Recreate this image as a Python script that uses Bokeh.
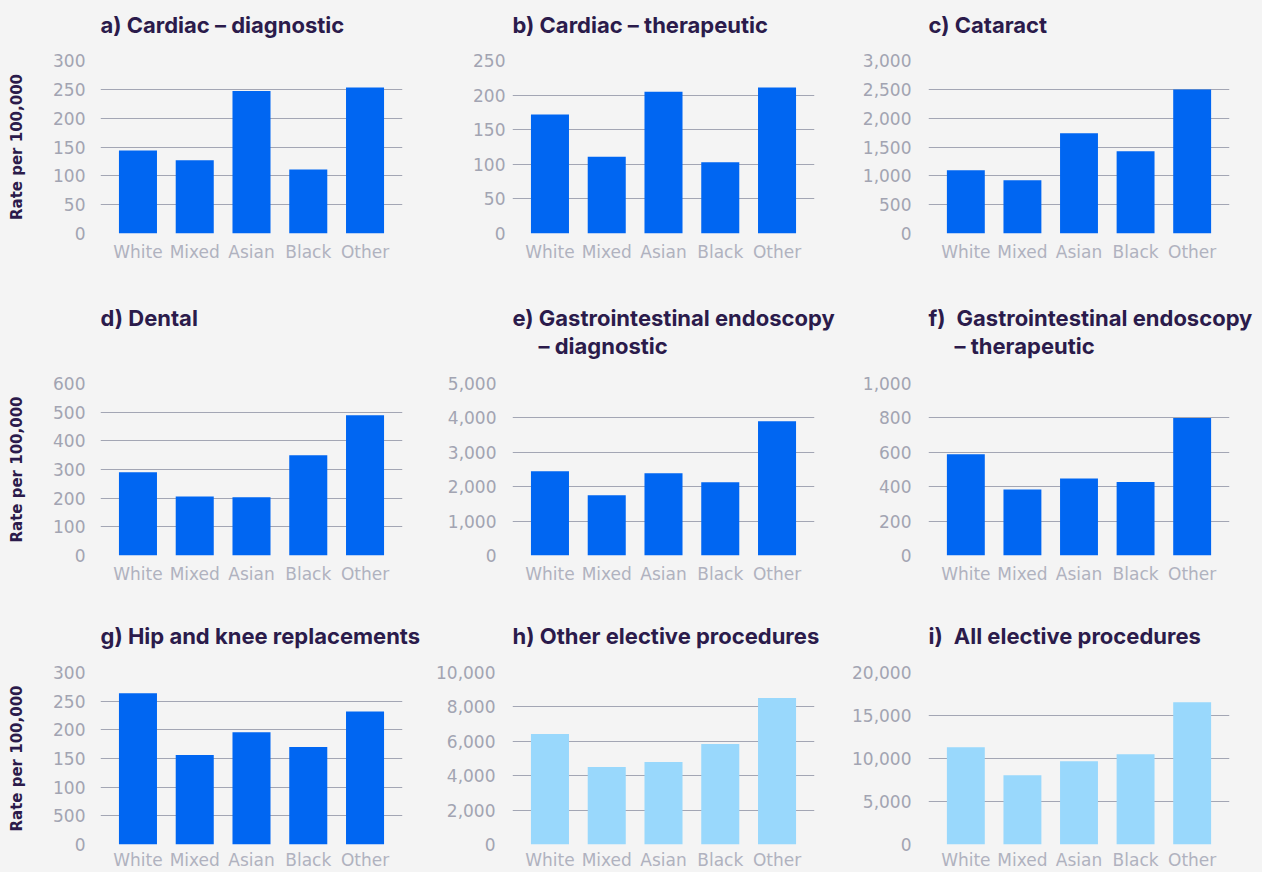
from bokeh.plotting import figure
from bokeh.layouts import column, row
from bokeh.models import Title, FactorRange, Range1d, NumeralTickFormatter, FixedTicker
from bokeh.embed import file_html
from bokeh.resources import INLINE

# ---------------- data ----------------
categories = ["White", "Mixed", "Asian", "Black", "Other"]

cardiac_diagnostic = [144, 127, 247, 111, 253]
cardiac_therapeutic = [172, 111, 205, 103, 211]
cataract = [1096, 923, 1737, 1425, 2498]
dental = [290, 206, 203, 350, 489]
gi_diagnostic = [2447, 1748, 2388, 2126, 3903]
gi_therapeutic = [588, 384, 448, 427, 800]
hip_knee = [264, 156, 196, 170, 232]
other_elective = [6427, 4505, 4796, 5845, 8524]
all_elective = [11301, 8039, 9670, 10485, 16544]

ticks_a = [0, 50, 100, 150, 200, 250, 300]
ticks_b = [0, 50, 100, 150, 200, 250]
ticks_c = [0, 500, 1000, 1500, 2000, 2500, 3000]
ticks_d = [0, 100, 200, 300, 400, 500, 600]
ticks_e = [0, 1000, 2000, 3000, 4000, 5000]
ticks_f = [0, 200, 400, 600, 800, 1000]
ticks_g = [0, 50, 100, 150, 200, 250, 300]
ticks_h = [0, 2000, 4000, 6000, 8000, 10000]
ticks_i = [0, 5000, 10000, 15000, 20000]
tick_label_overrides_g = {50: "500"}

titles = {
    "a": ["a) Cardiac \u2013 diagnostic"],
    "b": ["b) Cardiac \u2013 therapeutic"],
    "c": ["c) Cataract"],
    "d": ["d) Dental"],
    "e": ["e) Gastrointestinal endoscopy", "\u2013 diagnostic"],
    "f": ["f)\u2002Gastrointestinal endoscopy", "\u2013 therapeutic"],
    "g": ["g) Hip and knee replacements"],
    "h": ["h) Other elective procedures"],
    "i": ["i)\u2002All elective procedures"],
}
y_label = "Rate per 100,000"

# ---------------- style ----------------
BG = "#f4f4f4"
BLUE = "#0066f2"
LIGHT_BLUE = "#99d8fc"
TITLE_COLOR = "#2b1b4b"
TICK_COLOR = "#a2a4b2"
CAT_COLOR = "#b0b2bf"
GRID_COLOR = "#a3a6b4"
TICK_FONT = "DejaVu Sans"
TITLE_FONT = "Inter"

cols = [dict(W=430, L=100, R=28), dict(W=418, L=82, R=34), dict(W=414, L=80, R=33)]
rows = [dict(H=290, F=60, FH=173, XS=8),
        dict(H=320, F=93, FH=172, XS=8),
        dict(H=262, F=62, FH=172, XS=5)]


def make_panel(key, values, ticks, color, ci, ri, gap, tick_standoff=15,
               with_ylabel=False, overrides=None, line2_offset=26):
    c = cols[ci]
    r = rows[ri]
    p = figure(
        width=c["W"], height=r["H"], title=None,
        x_range=FactorRange(factors=categories, range_padding=0.16,
                            range_padding_units="absolute"),
        y_range=Range1d(0, ticks[-1]),
        output_backend="svg", toolbar_location=None,
        min_border_left=c["L"], min_border_right=c["R"],
        min_border_top=r["F"], min_border_bottom=r["H"] - r["F"] - r["FH"],
    )
    p.background_fill_color = BG
    p.border_fill_color = BG
    p.outline_line_color = None

    p.vbar(x=categories, top=values, width=0.67, fill_color=color, line_color=None)

    # grid
    p.xgrid.grid_line_color = None
    p.ygrid.grid_line_color = GRID_COLOR
    p.ygrid.grid_line_width = 1

    # y axis
    p.yaxis.ticker = FixedTicker(ticks=ticks)
    p.yaxis.formatter = NumeralTickFormatter(format="0,0")
    if overrides:
        p.yaxis.major_label_overrides = overrides
    p.yaxis.axis_line_color = None
    p.yaxis.major_tick_line_color = None
    p.yaxis.minor_tick_line_color = None
    p.yaxis.major_tick_out = 0
    p.yaxis.major_tick_in = 0
    p.yaxis.minor_tick_out = 0
    p.yaxis.major_label_standoff = tick_standoff
    p.yaxis.major_label_text_font = TICK_FONT
    p.yaxis.major_label_text_font_size = "17px"
    p.yaxis.major_label_text_color = TICK_COLOR
    if with_ylabel:
        p.yaxis.axis_label = y_label
        p.yaxis.axis_label_text_font = TICK_FONT
        p.yaxis.axis_label_text_font_size = "15px"
        p.yaxis.axis_label_text_font_style = "bold"
        p.yaxis.axis_label_text_color = TITLE_COLOR
        p.yaxis.axis_label_standoff = 24

    # x axis
    p.xaxis.axis_line_color = None
    p.xaxis.major_tick_line_color = None
    p.xaxis.major_tick_out = 0
    p.xaxis.major_tick_in = 0
    p.xaxis.major_label_standoff = r["XS"]
    p.xaxis.major_label_text_font = TICK_FONT
    p.xaxis.major_label_text_font_size = "17px"
    p.xaxis.major_label_text_color = CAT_COLOR

    # titles (spacer first -> nearest the frame)
    p.add_layout(Title(text=" ", text_font_size="1px", standoff=max(gap - 3, 0),
                       background_fill_color=None), "above")
    lines = titles[key]
    for k, line in enumerate(reversed(lines)):
        is_second = (len(lines) == 2 and k == 0)
        p.add_layout(Title(text=line, text_font=TITLE_FONT, text_font_size="22px",
                           text_font_style="bold", text_color=TITLE_COLOR,
                           align="left", standoff=0,
                           offset=line2_offset if is_second else 0), "above")
    return p


pa = make_panel("a", cardiac_diagnostic, ticks_a, BLUE, 0, 0, 22.5, with_ylabel=True)
pb = make_panel("b", cardiac_therapeutic, ticks_b, BLUE, 1, 0, 22.5, tick_standoff=7)
pc = make_panel("c", cataract, ticks_c, BLUE, 2, 0, 22.5, tick_standoff=17)

pd_ = make_panel("d", dental, ticks_d, BLUE, 0, 1, 52.5, with_ylabel=True)
pe = make_panel("e", gi_diagnostic, ticks_e, BLUE, 1, 1, 24.5, tick_standoff=16, line2_offset=26)
pf = make_panel("f", gi_therapeutic, ticks_f, BLUE, 2, 1, 24.5, tick_standoff=17, line2_offset=26)

pg = make_panel("g", hip_knee, ticks_g, BLUE, 0, 2, 23.5, with_ylabel=True,
                overrides=tick_label_overrides_g)
ph = make_panel("h", other_elective, ticks_h, LIGHT_BLUE, 1, 2, 23.5, tick_standoff=17)
pi = make_panel("i", all_elective, ticks_i, LIGHT_BLUE, 2, 2, 23.5, tick_standoff=17)

bg_style = {"background-color": BG}
layout = column(
    row(pa, pb, pc, styles=bg_style),
    row(pd_, pe, pf, styles=bg_style),
    row(pg, ph, pi, styles=bg_style),
    styles=bg_style,
)

open("out.html", "w").write(file_html(layout, INLINE))
